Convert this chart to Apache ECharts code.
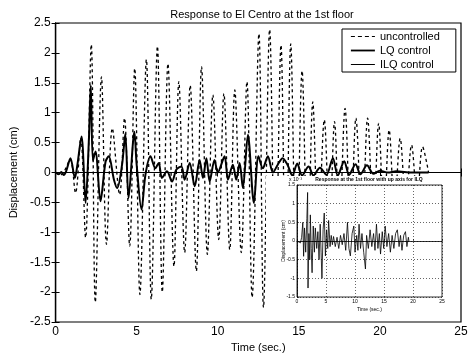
<!DOCTYPE html>
<html>
<head>
<meta charset="utf-8">
<script src="https://cdn.jsdelivr.net/npm/echarts@6/dist/echarts.min.js"></script>
<style>
  html, body { margin: 0; padding: 0; background: #fff; }
  #chart { width: 471px; height: 359px; }
</style>
</head>
<body>
<div id="chart"></div>
<script>
// uncontrolled response (cm), turning points
const uncT = [0, 0.3, 0.55, 0.9, 1.23, 1.55, 1.85, 2.2, 2.45, 2.83, 3.14, 3.5, 3.95, 4.25, 4.57, 4.88, 5.2, 5.6, 5.9, 6.28, 6.58, 6.93, 7.3, 7.6, 7.96, 8.3, 8.68, 9.0, 9.36, 9.7, 10.06, 10.38, 10.74, 11.05, 11.45, 11.8, 12.12, 12.54, 12.82, 13.2, 13.55, 13.9, 14.2, 14.5, 14.85, 15.2, 15.55, 15.86, 16.2, 16.57, 16.9, 17.2, 17.5, 17.85, 18.2, 18.52, 18.9, 19.24, 19.6, 19.92, 20.25, 20.57, 20.9, 21.25, 21.6, 21.95, 22.3, 22.63, 23.0];
const uncV = [0, -0.04, 0.03, 0.22, -0.34, 0.58, -1.09, 2.14, -2.17, 1.6, -1.2, 0.74, -0.37, 0.91, -1.23, 1.74, -2.04, 1.89, -2.12, 2.11, -2.0, 1.82, -1.57, 1.52, -1.34, 1.46, -1.65, 1.77, -1.37, 1.3, -1.12, 1.32, -1.29, 1.38, -1.34, 1.52, -2.09, 2.32, -2.26, 2.39, -2.0, 2.13, -2.0, 2.15, -1.8, 1.7, -1.5, 1.18, -1.0, 0.88, -0.9, 0.85, -0.9, 1.07, -1.0, 0.91, -0.9, 0.91, -0.85, 0.82, -0.75, 0.71, -0.6, 0.57, -0.5, 0.46, -0.45, 0.43, 0];

// LQ control (cm)
const lqT = [0, 0.2, 0.35, 0.5, 0.65, 0.92, 1.19, 1.33, 1.6, 1.85, 2.05, 2.17, 2.3, 2.46, 2.77, 3.08, 3.28, 3.6, 3.8, 4.1, 4.3, 4.5, 4.86, 5.0, 5.3, 5.54, 5.85, 6.15, 6.36, 6.56, 6.87, 7.18, 7.45, 7.76, 7.96, 8.27, 8.58, 8.88, 9.09, 9.3, 9.5, 9.8, 10.0, 10.42, 10.63, 10.93, 11.14, 11.35, 11.55, 11.86, 12.23, 12.51, 12.78, 13.09, 13.4, 13.7, 14.0, 14.3, 14.6, 14.9, 15.2, 15.6, 15.9, 16.3, 16.7, 17.1, 17.4, 17.8, 18.1, 18.5, 18.8, 19.2, 19.6, 20.0, 20.5, 21.0, 22.0, 23.0];
const lqV = [0, -0.03, 0.01, -0.04, 0.02, 0.24, -0.09, 0.1, 0.6, -0.51, 0.52, 1.46, 0.2, 0.35, -0.48, 0.18, 0.27, -0.12, -0.26, 0.13, 0.65, -0.43, 0.68, 0.13, -0.62, -0.04, 0.27, 0.07, 0.16, -0.09, 0.02, -0.15, 0.05, 0.1, -0.12, 0.16, -0.23, 0.21, -0.09, 0.24, -0.15, 0.21, 0, 0.27, -0.12, 0.13, -0.12, 0.16, -0.26, 0.63, -0.51, 0.27, 0.07, 0.27, 0, 0.13, 0.24, 0.13, -0.05, 0.15, -0.05, 0.1, -0.05, 0.08, -0.04, 0.24, -0.05, 0.19, -0.04, 0.14, -0.03, 0.12, -0.02, 0.03, 0, 0.02, 0, 0];

// ILQ control, in units of 1e-3 cm
const ilqT = [0, 0.3, 0.6, 0.8, 1.0, 1.14, 1.3, 1.5, 1.7, 1.83, 1.9, 2.05, 2.2, 2.3, 2.45, 2.6, 2.8, 3.0, 3.16, 3.4, 3.6, 3.8, 4.0, 4.15, 4.3, 4.5, 4.7, 4.9, 5.1, 5.3, 5.45, 5.7, 5.9, 6.1, 6.3, 6.6, 6.9, 7.2, 7.5, 7.8, 8.1, 8.4, 8.7, 8.95, 9.2, 9.5, 9.8, 10.0, 10.3, 10.5, 10.7, 10.95, 11.2, 11.5, 11.8, 12.0, 12.3, 12.6, 12.9, 13.2, 13.45, 13.7, 13.95, 14.2, 14.4, 14.7, 14.95, 15.2, 15.5, 15.8, 16.1, 16.4, 16.7, 17.0, 17.3, 17.6, 17.85, 18.1, 18.4, 18.7, 18.95, 19.2, 19.3];
const ilqV = [0, 0.02, -0.05, 0.1, 0.5, -0.41, 0.35, -0.3, 0.6, 1.3, -1.26, 0.2, -0.5, 0.7, -0.2, -0.85, 0.4, -0.3, 0.35, -0.2, 0.25, -0.5, 0.45, -0.3, -1.0, 0.3, 0.75, -0.4, 0.3, -0.2, 0.55, -0.15, 0.15, -0.1, 0.12, -0.15, 0.1, -0.2, 0.15, -0.1, 0.2, -0.25, 0.5, -0.2, -0.4, 0.2, 0.4, -0.3, 0.15, -0.25, 0.45, -0.2, 0.2, -0.3, -0.75, 0.15, -0.2, 0.3, -0.15, 0.2, -0.25, 0.45, -0.2, 0.2, -0.35, 0.25, -0.2, 0.4, -0.15, 0.2, -0.3, 0.15, -0.2, 0.2, 0.3, -0.15, 0.15, -0.25, 0.15, 0.25, -0.15, 0.1, 0];

const seriesNames = ["uncontrolled", "LQ control", "ILQ control"];
const mainXTicks = { min: 0, max: 25, interval: 5 };
const mainYTicks = { min: -2.5, max: 2.5, interval: 0.5 };
const insetXTicks = { min: 0, max: 25, interval: 5 };
const insetYTicks = { min: -1.5, max: 1.5, interval: 0.5 };

const pairs = (ts, vs, k = 1) => ts.map((t, i) => [t, vs[i] * k]);

const FONT = "Liberation Sans";
const chart = echarts.init(document.getElementById("chart"), null, { renderer: "canvas" });

const mainAxisLine = { show: true, lineStyle: { color: "#000", width: 1.2 } };
const tinyLabel = { fontFamily: FONT, fontSize: 5, color: "#000", margin: 2 };

chart.setOption({
  animation: false,
  backgroundColor: "#fff",
  title: {
    text: "Response to El Centro at the 1st floor",
    left: 257, top: 4, textAlign: "center",
    textStyle: { fontFamily: FONT, fontSize: 11, fontWeight: "normal", color: "#000" },
  },
  legend: {
    data: [
      { name: seriesNames[0], lineStyle: { width: 1.2, type: [4, 3] } },
      { name: seriesNames[1], lineStyle: { width: 1.8 } },
      { name: seriesNames[2], lineStyle: { width: 1 } },
    ],
    orient: "vertical",
    left: 342, top: 29,
    itemWidth: 24, itemHeight: 12, itemGap: 3,
    padding: [2, 16, 2, 8],
    borderColor: "#000", borderWidth: 1,
    backgroundColor: "#fff",
    itemStyle: { opacity: 0 },
    textStyle: { fontFamily: FONT, fontSize: 11, color: "#000" },
  },
  grid: [
    { left: 54, right: 10, top: 23, bottom: 37, show: true, borderColor: "#000", borderWidth: 1.2 },
    { left: 297, right: 29, top: 185, bottom: 62, show: true, borderColor: "#000", borderWidth: 0.8, z: 60 },
  ],
  xAxis: [
    {
      gridIndex: 0, type: "value", ...mainXTicks,
      name: "Time (sec.)", nameLocation: "middle", nameGap: 20,
      nameTextStyle: { fontFamily: FONT, fontSize: 11, color: "#000" },
      axisLine: mainAxisLine,
      axisTick: { inside: true, length: 4, lineStyle: { color: "#000" } },
      axisLabel: { fontFamily: FONT, fontSize: 12, color: "#000", margin: 4 },
      splitLine: { show: false },
    },
    {
      gridIndex: 0, type: "value", position: "top", ...mainXTicks,
      axisLine: mainAxisLine,
      axisTick: { inside: true, length: 4, lineStyle: { color: "#000" } },
      axisLabel: { show: false }, splitLine: { show: false },
    },
    {
      gridIndex: 1, type: "value", ...insetXTicks, z: 60,
      name: "Time (sec.)", nameLocation: "middle", nameGap: 10,
      nameTextStyle: { fontFamily: FONT, fontSize: 5, color: "#000" },
      axisLine: { show: true, lineStyle: { color: "#000", width: 0.8 } },
      axisTick: { inside: true, length: 2, lineStyle: { color: "#000", width: 0.6 } },
      axisLabel: tinyLabel,
      splitLine: { show: true, lineStyle: { color: "#000", type: [1, 2], width: 0.6 } },
    },
  ],
  yAxis: [
    {
      gridIndex: 0, type: "value", ...mainYTicks,
      name: "Displacement (cm)", nameLocation: "middle", nameGap: 32,
      nameTextStyle: { fontFamily: FONT, fontSize: 11, color: "#000" },
      axisLine: mainAxisLine,
      axisTick: { inside: true, length: 4, lineStyle: { color: "#000" } },
      axisLabel: { fontFamily: FONT, fontSize: 12, color: "#000", margin: 5 },
      splitLine: { show: false },
    },
    {
      gridIndex: 0, type: "value", position: "right", ...mainYTicks,
      axisLine: mainAxisLine,
      axisTick: { inside: true, length: 4, lineStyle: { color: "#000" } },
      axisLabel: { show: false }, splitLine: { show: false },
    },
    {
      gridIndex: 1, type: "value", ...insetYTicks, z: 60,
      name: "x 10\u207b\u00b3", nameLocation: "end", nameGap: 1,
      nameTextStyle: { fontFamily: FONT, fontSize: 5, color: "#000", align: "left", padding: [0, 0, 0, -8] },
      axisLine: { show: true, lineStyle: { color: "#000", width: 0.8 } },
      axisTick: { inside: true, length: 2, lineStyle: { color: "#000", width: 0.6 } },
      axisLabel: tinyLabel,
      splitLine: { show: true, lineStyle: { color: "#000", type: [1, 2], width: 0.6 } },
    },
  ],
  graphic: [
    { type: "rect", z: 50, shape: { x: 266, y: 176, width: 192, height: 142 }, style: { fill: "#fff" } },
    {
      type: "text", z: 60, x: 369, y: 177,
      style: { text: "Response at the 1st floor with up axis for ILQ", font: "bold 5px " + FONT, fill: "#000", textAlign: "center" },
    },
    {
      type: "text", z: 60, x: 284, y: 241, rotation: Math.PI / 2,
      style: { text: "Displacement (cm)", font: "5px " + FONT, fill: "#000", textAlign: "center", textVerticalAlign: "middle" },
    },
  ],
  series: [
    {
      name: seriesNames[0], type: "line", xAxisIndex: 0, yAxisIndex: 0,
      data: pairs(uncT, uncV), symbol: "none", smooth: 0.35,
      lineStyle: { color: "#000", width: 1.3, type: [3, 3] },
      itemStyle: { color: "#000" }, z: 2,
    },
    {
      name: seriesNames[1], type: "line", xAxisIndex: 0, yAxisIndex: 0,
      data: pairs(lqT, lqV), symbol: "none", smooth: 0.3,
      lineStyle: { color: "#000", width: 2 },
      itemStyle: { color: "#000" }, z: 3,
    },
    {
      name: seriesNames[2], type: "line", xAxisIndex: 0, yAxisIndex: 0,
      data: pairs(ilqT, ilqV, 1e-3), symbol: "none",
      lineStyle: { color: "#000", width: 1 },
      itemStyle: { color: "#000" }, z: 4,
    },
    {
      type: "line", xAxisIndex: 2, yAxisIndex: 2,
      data: pairs(ilqT, ilqV), symbol: "none",
      lineStyle: { color: "#000", width: 0.8 },
      z: 70, silent: true,
    },
  ],
});
</script>
</body>
</html>
